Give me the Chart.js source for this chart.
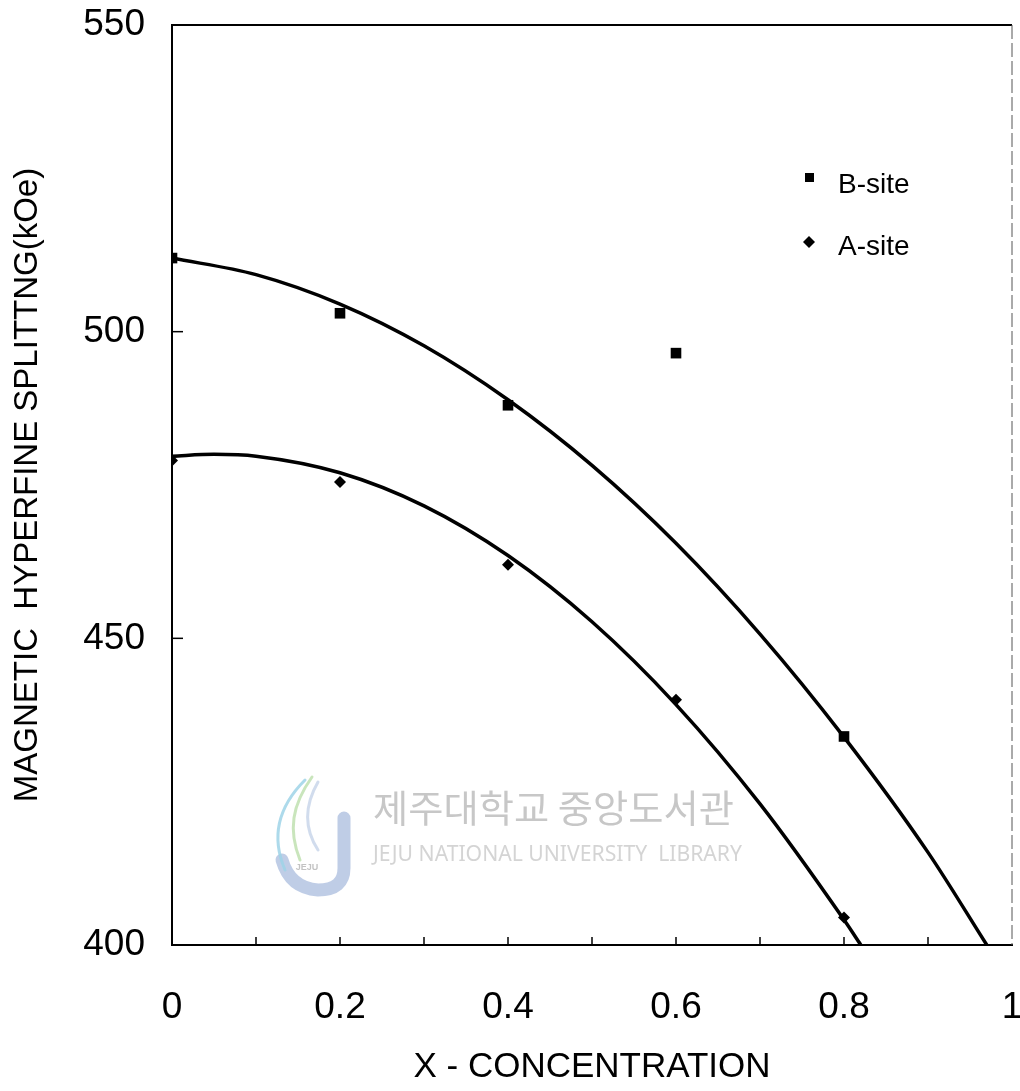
<!DOCTYPE html>
<html>
<head>
<meta charset="utf-8">
<script src="https://cdn.jsdelivr.net/npm/chart.js@4/dist/chart.umd.min.js"></script>
<style>
  body { margin: 0; background: #fff; }
  #wrap { width: 1020px; height: 1091px; position: relative; }
</style>
</head>
<body>
<div id="wrap"><canvas id="hfChart"></canvas></div>
<script>
// measured points
const concentration = [0, 0.2, 0.4, 0.6, 0.8]
const bSite = [512, 503, 488, 496.5, 434]
const aSite = [479, 475.5, 462, 440, 404.5]

// fitted curves
const bFitX = [0, 0.1, 0.2, 0.3, 0.4, 0.5, 0.6, 0.7, 0.8, 0.9, 0.97]
const bFitY = [512, 509.3, 504.5, 497.7, 488.9, 478.2, 465.5, 450.7, 433.9, 415.1, 400]
const aFitX = [0, 0.05, 0.1, 0.2, 0.3, 0.4, 0.5, 0.6, 0.7, 0.8, 0.82]
const aFitY = [479.7, 480, 479.7, 477, 471.6, 463.5, 452.7, 439.2, 423, 404.1, 400]

const yTicks = [400, 450, 500, 550]
const legendLabels = ['B-site', 'A-site']

const FONT = "'Liberation Sans', Arial, sans-serif"
const toXY = (xs, ys) => xs.map((x, i) => ({ x: x, y: ys[i] }))

// no extra room for overhanging tick labels, layout padding decides the plot box
const noOverhang = s => {
    s.paddingLeft = 0
    s.paddingRight = 0
    s.paddingTop = 0
    s.paddingBottom = 0
}

// inward tick marks, top/right frame, legend and the library watermark
const framePlugin = {
    id: 'frame',
    beforeDatasetsDraw(chart) {
        const ctx = chart.ctx
        ctx.save()
        ctx.globalAlpha = 0.85
        // logo
        ctx.lineCap = 'round'
        ctx.strokeStyle = '#b4c4e2'
        ctx.lineWidth = 13
        ctx.beginPath()
        ctx.moveTo(344, 818)
        ctx.lineTo(344, 868)
        ctx.quadraticCurveTo(344, 890, 318, 890)
        ctx.quadraticCurveTo(290, 888, 282, 860)
        ctx.stroke()
        ctx.lineWidth = 3
        ctx.strokeStyle = '#9fd3e8'
        ctx.beginPath()
        ctx.moveTo(305, 780)
        ctx.bezierCurveTo(280, 805, 270, 835, 285, 870)
        ctx.stroke()
        ctx.strokeStyle = '#bfe0b0'
        ctx.beginPath()
        ctx.moveTo(312, 777)
        ctx.bezierCurveTo(292, 805, 288, 830, 300, 860)
        ctx.stroke()
        ctx.strokeStyle = '#c9d6ea'
        ctx.beginPath()
        ctx.moveTo(318, 782)
        ctx.bezierCurveTo(303, 808, 305, 830, 318, 850)
        ctx.stroke()
        ctx.fillStyle = '#b8b8b8'
        ctx.font = "bold 9px 'Liberation Sans', Arial, sans-serif"
        ctx.textAlign = 'center'
        ctx.fillText('JEJU', 307, 870)
        // library name
        ctx.fillStyle = '#bdbdbd'
        ctx.textBaseline = 'middle'
        ctx.textAlign = 'left'
        ctx.font = "38px 'Noto Sans CJK KR'"
        let t = '제주대학교 중앙도서관'
        let w = ctx.measureText(t).width
        ctx.save()
        ctx.translate(373, 808)
        ctx.scale(361 / w, 1)
        ctx.fillText(t, 0, 0)
        ctx.restore()
        ctx.fillStyle = '#cdcdcd'
        ctx.font = "22px 'Noto Sans', sans-serif"
        t = 'JEJU NATIONAL UNIVERSITY  LIBRARY'
        w = ctx.measureText(t).width
        ctx.save()
        ctx.translate(373, 855)
        ctx.scale(369 / w, 1)
        ctx.fillText(t, 0, 0)
        ctx.restore()
        ctx.restore()
    },
    afterDraw(chart) {
        const ctx = chart.ctx
        const a = chart.chartArea
        const xs = chart.scales.x
        const ys = chart.scales.y
        ctx.save()
        ctx.strokeStyle = '#000'
        ctx.lineWidth = 2
        ctx.beginPath()
        ctx.moveTo(a.left, a.top)
        ctx.lineTo(a.right, a.top)
        ctx.stroke()
        // right frame is thin and broken in the scan
        ctx.lineWidth = 1
        ctx.strokeStyle = '#555'
        ctx.setLineDash([14, 4])
        ctx.beginPath()
        ctx.moveTo(a.right, a.top)
        ctx.lineTo(a.right, a.bottom)
        ctx.stroke()
        ctx.setLineDash([])
        ctx.strokeStyle = '#000'
        ctx.lineWidth = 1.5
        xs.ticks.forEach(tk => {
            if (tk.value <= xs.min || tk.value >= xs.max) return
            const px = xs.getPixelForValue(tk.value)
            ctx.beginPath()
            ctx.moveTo(px, a.bottom)
            ctx.lineTo(px, a.bottom - 8)
            ctx.stroke()
        })
        ys.ticks.forEach(tk => {
            if (tk.value <= ys.min || tk.value >= ys.max) return
            const py = ys.getPixelForValue(tk.value)
            ctx.beginPath()
            ctx.moveTo(a.left, py)
            ctx.lineTo(a.left + 11, py)
            ctx.stroke()
        })
        // legend
        ctx.fillStyle = '#000'
        ctx.font = '28px ' + FONT
        ctx.textBaseline = 'middle'
        ctx.textAlign = 'left'
        ctx.fillRect(805, 173, 9, 9)
        ctx.fillText(legendLabels[0], 838, 185)
        ctx.beginPath()
        ctx.moveTo(809, 236)
        ctx.lineTo(815, 242)
        ctx.lineTo(809, 248)
        ctx.lineTo(803, 242)
        ctx.closePath()
        ctx.fill()
        ctx.fillText(legendLabels[1], 838, 247)
        ctx.restore()
    }
}

new Chart(document.getElementById('hfChart'), {
    type: 'scatter',
    data: {
        datasets: [
            {
                label: 'B-site fit',
                type: 'line',
                data: toXY(bFitX, bFitY),
                borderColor: '#000',
                borderWidth: 3.5,
                pointRadius: 0,
                cubicInterpolationMode: 'monotone',
                fill: false
            },
            {
                label: 'A-site fit',
                type: 'line',
                data: toXY(aFitX, aFitY),
                borderColor: '#000',
                borderWidth: 3.5,
                pointRadius: 0,
                cubicInterpolationMode: 'monotone',
                fill: false
            },
            {
                label: legendLabels[0],
                data: toXY(concentration, bSite),
                pointStyle: 'rect',
                pointRadius: 7.5,
                backgroundColor: '#000',
                borderColor: '#000',
                borderWidth: 0
            },
            {
                label: legendLabels[1],
                data: toXY(concentration, aSite),
                pointStyle: 'rectRot',
                pointRadius: 6,
                backgroundColor: '#000',
                borderColor: '#000',
                borderWidth: 0
            }
        ]
    },
    options: {
        responsive: true,
        maintainAspectRatio: false,
        animation: false,
        layout: { padding: { top: 25, right: 8, left: 0, bottom: 0 } },
        plugins: {
            legend: { display: false },
            tooltip: { enabled: false }
        },
        scales: {
            x: {
                type: 'linear',
                min: 0,
                max: 1,
                afterFit: s => { s.height = 146; noOverhang(s) },
                grid: { display: false, drawTicks: false },
                border: { display: true, color: '#000', width: 2 },
                ticks: {
                    stepSize: 0.1,
                    autoSkip: false,
                    maxRotation: 0,
                    padding: 41,
                    color: '#000',
                    font: { family: FONT, size: 37 },
                    callback: v => Math.round(v * 10) % 2 === 0 ? String(+v.toFixed(1)) : ''
                },
                title: {
                    display: true,
                    text: 'X - CONCENTRATION',
                    color: '#000',
                    font: { family: FONT, size: 35 },
                    padding: { top: 0, bottom: 3 }
                }
            },
            y: {
                type: 'linear',
                min: yTicks[0],
                max: yTicks[yTicks.length - 1],
                afterFit: s => { s.width = 172; noOverhang(s) },
                afterBuildTicks: s => { s.ticks = yTicks.map(v => ({ value: v })) },
                grid: { display: false, drawTicks: false },
                border: { display: true, color: '#000', width: 2 },
                ticks: {
                    padding: 27,
                    color: '#000',
                    font: { family: FONT, size: 37 }
                },
                title: {
                    display: true,
                    text: 'MAGNETIC  HYPERFINE SPLITTNG(kOe)',
                    color: '#000',
                    font: { family: FONT, size: 33 },
                    padding: { top: 8, bottom: 0 }
                }
            }
        }
    },
    plugins: [framePlugin]
})
</script>
</body>
</html>
